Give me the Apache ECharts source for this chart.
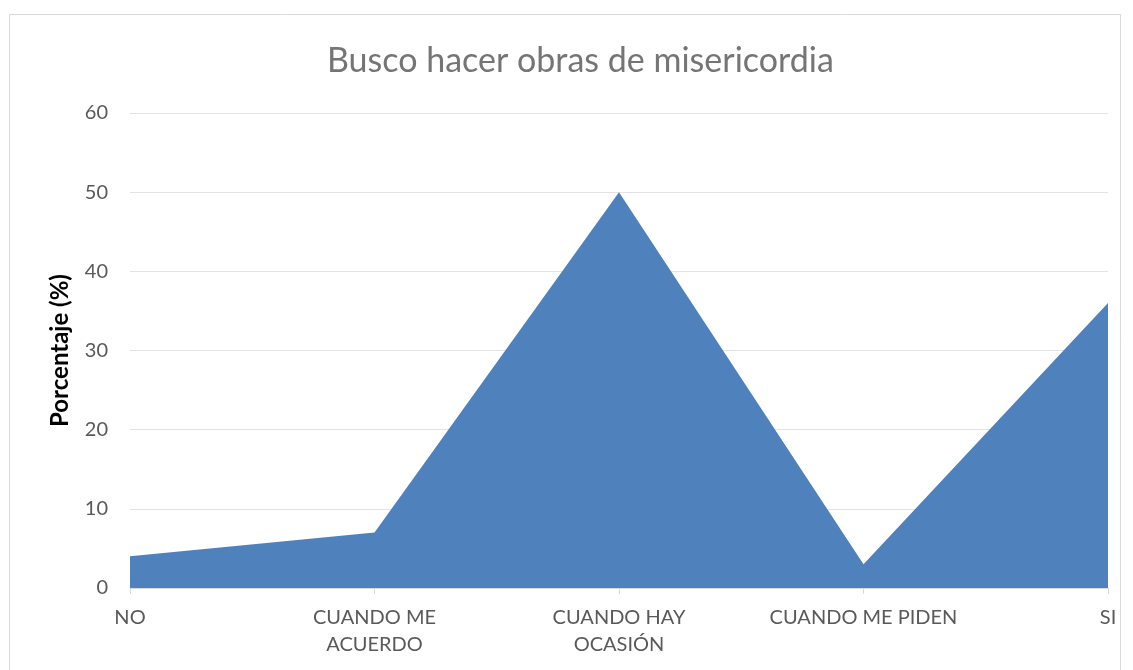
<!DOCTYPE html>
<html lang="es">
<head>
<meta charset="UTF-8">
<title>Busco hacer obras de misericordia</title>
<script src="https://cdn.jsdelivr.net/npm/echarts@6/dist/echarts.min.js"></script>
<style>
  html, body { margin: 0; padding: 0; background: #fff; }
  #main { width: 1133px; height: 670px; }
</style>
</head>
<body>
<div id="main"></div>
<script>
  // categorias y valores (%)
  var categorias = ['NO', 'CUANDO ME\nACUERDO', 'CUANDO HAY\nOCASIÓN', 'CUANDO ME PIDEN', 'SI'];
  var porcentajes = [4, 7, 50, 3, 36];
  var ejeY = { min: 0, max: 60, interval: 10 };

  var chart = echarts.init(document.getElementById('main'));
  var fuente = 'Lato, "Open Sans", sans-serif';

  chart.setOption({
    animation: false,
    textStyle: { fontFamily: fuente },
    title: {
      text: 'Busco hacer obras de misericordia',
      left: 322,
      top: 39,
      textStyle: { fontSize: 34, fontWeight: 'normal', color: '#757575', fontFamily: fuente }
    },
    graphic: [{
      type: 'rect',
      shape: { x: 9.5, y: 14.5, width: 1111, height: 680 },
      style: { fill: 'none', stroke: '#d9d9d9', lineWidth: 1 },
      silent: true
    }],
    grid: { left: 130, right: 25, top: 113, bottom: 82 },
    xAxis: {
      type: 'category',
      data: categorias,
      boundaryGap: false,
      axisLine: { lineStyle: { color: '#d9d9d9' } },
      axisTick: { show: true, length: 6, alignWithLabel: true, lineStyle: { color: '#d9d9d9' } },
      axisLabel: { color: '#595959', fontSize: 20, margin: 16, lineHeight: 27, interval: 0 }
    },
    yAxis: {
      type: 'value',
      min: ejeY.min,
      max: ejeY.max,
      interval: ejeY.interval,
      name: 'Porcentaje (%)',
      nameLocation: 'middle',
      nameGap: 58,
      nameTextStyle: { color: '#000', fontSize: 24, fontWeight: 'bold', fontFamily: fuente },
      axisLine: { show: false },
      axisTick: { show: false },
      axisLabel: { color: '#595959', fontSize: 20, margin: 22 },
      splitLine: { lineStyle: { color: '#e3e3e3' } }
    },
    series: [{
      type: 'line',
      data: porcentajes,
      symbol: 'none',
      lineStyle: { width: 0 },
      areaStyle: { color: '#4f81bd', opacity: 1 },
      itemStyle: { color: '#4f81bd' }
    }]
  });
</script>
</body>
</html>
